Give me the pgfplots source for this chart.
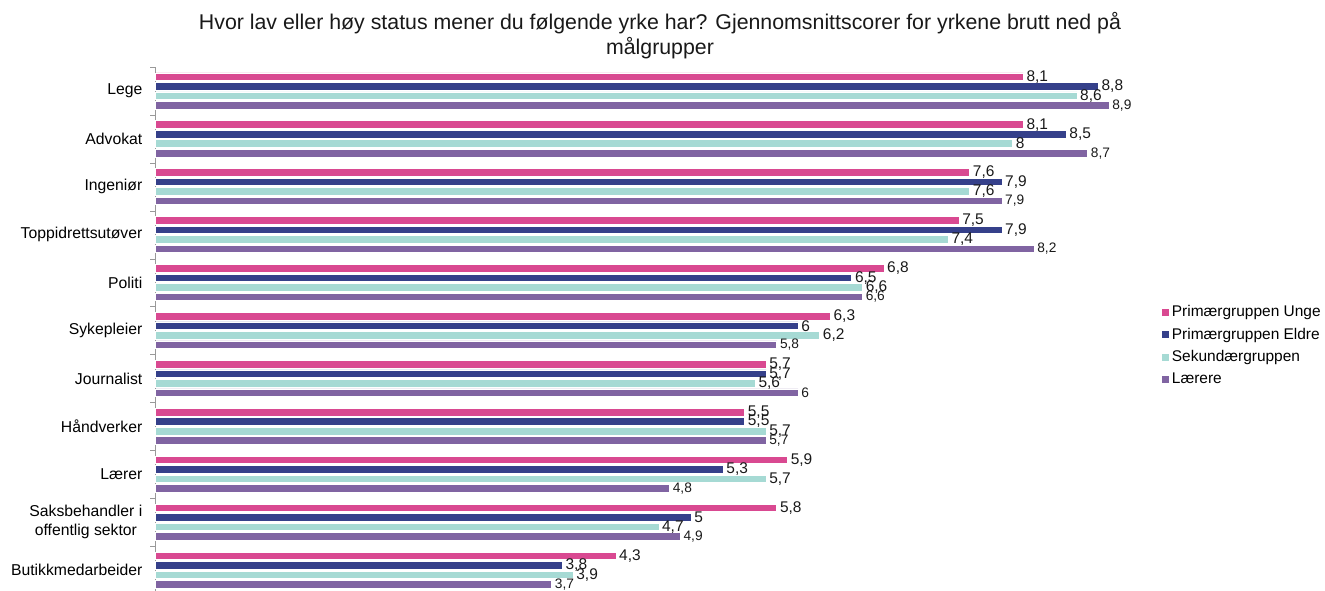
\documentclass[border=0pt]{standalone}
\usepackage{fontspec}
\setmainfont{Liberation Sans}
\usepackage{pgfplots}
\pgfplotsset{compat=1.18}
\definecolor{cUng}{RGB}{217,73,145}
\definecolor{cEld}{RGB}{53,64,138}
\definecolor{cSek}{RGB}{166,218,212}
\definecolor{cLae}{RGB}{128,100,162}
\begin{document}
\begin{tikzpicture}
\useasboundingbox (0pt,0pt) rectangle (993.75pt,442.5pt);
\node[align=center, font=\fontsize{16}{18.75}\selectfont, text=black!90] at (495pt,415.5pt) {Hvor lav eller høy status mener du følgende yrke har? Gjennomsnittscorer for yrkene brutt ned på\\målgrupper};
\begin{axis}[
  at={(116.25pt,-3pt)}, anchor=south west,
  scale only axis, width=740.25pt, height=395.25pt,
  xbar, bar width=5.7pt,
  xmin=0, xmax=9.207, ymin=-0.5, ymax=10.5, y dir=reverse,
  axis x line=none, axis y line*=left,
  axis line style={draw=gray!80},
  ytick={0,...,10},
  yticklabels={Lege,Advokat,Ingeniør,Toppidrettsutøver,Politi,Sykepleier,Journalist,Håndverker,Lærer,{Saksbehandler i\\offentlig sektor},Butikkmedarbeider},
  major tick length=0pt,
  yticklabel style={font=\fontsize{11.8}{14}\selectfont, align=center, xshift=-6pt},
  extra y ticks={-0.5,0.5,...,10.5},
  extra y tick labels={},
  extra y tick style={major tick length=3.75pt, tick align=outside, tick style={draw=gray!80}},
  point meta=x,
  nodes near coords={\pgfmathprintnumber[assume math mode=true,use comma]{\pgfplotspointmeta}},
  nodes near coords style={font=\fontsize{11.6}{11.6}\selectfont, inner sep=2.2pt, anchor=west, text=black!90},
  legend image code/.code={\fill[#1,draw=none] (0pt,-2.6pt) rectangle (5.25pt,2.6pt);},
  legend style={at={(1.0162,0.471)}, anchor=west, draw=none, fill=none, font=\fontsize{11.6}{13}\selectfont, row sep=3pt},
  legend cell align=left,
]
\addplot[fill=cUng, draw=white, line width=0.5pt, bar shift=10.69pt] coordinates {(8.1,0) (8.1,1) (7.6,2) (7.5,3) (6.8,4) (6.3,5) (5.7,6) (5.5,7) (5.9,8) (5.8,9) (4.3,10)};
\addplot[fill=cEld, draw=white, line width=0.5pt, bar shift=3.56pt] coordinates {(8.8,0) (8.5,1) (7.9,2) (7.9,3) (6.5,4) (6,5) (5.7,6) (5.5,7) (5.3,8) (5,9) (3.8,10)};
\addplot[fill=cSek, draw=white, line width=0.5pt, bar shift=-3.56pt] coordinates {(8.6,0) (8,1) (7.6,2) (7.4,3) (6.6,4) (6.2,5) (5.6,6) (5.7,7) (5.7,8) (4.7,9) (3.9,10)};
\addplot[fill=cLae, draw=white, line width=0.5pt, bar shift=-10.69pt, nodes near coords style={font=\fontsize{10.3}{10.3}\selectfont}] coordinates {(8.9,0) (8.7,1) (7.9,2) (8.2,3) (6.6,4) (5.8,5) (6,6) (5.7,7) (4.8,8) (4.9,9) (3.7,10)};
\legend{Primærgruppen Unge,Primærgruppen Eldre,Sekundærgruppen,Lærere}
\end{axis}
\end{tikzpicture}
\end{document}
